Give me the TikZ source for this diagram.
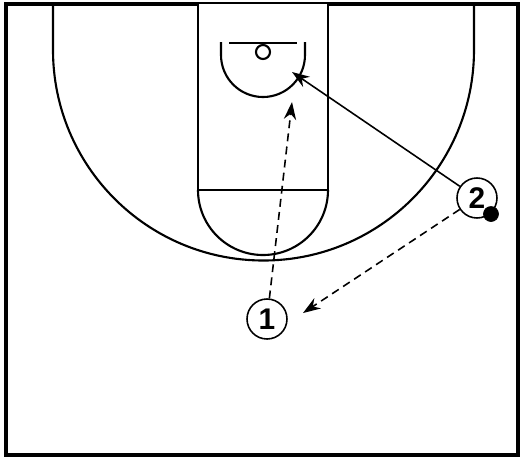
\documentclass[tikz,border=0pt]{standalone}
\usepackage{fontspec}
\setmainfont{Liberation Sans}
\usetikzlibrary{arrows.meta,positioning}
\tikzset{player/.style={draw,circle,line width=0.9pt,inner sep=0pt,minimum size=0.8cm,font=\bfseries\fontsize{17}{17}\selectfont}}
\tikzset{courtline/.style={line width=1.2pt}}
\tikzset{pass/.style={line width=0.9pt,-{Stealth[length=10pt,width=7pt]}}}
\tikzset{cut/.style={pass,dash pattern=on 4.5pt off 3pt}}

\begin{document}
\begin{tikzpicture}[x=0.02cm,y=-0.02cm]
\useasboundingbox (0,0) rectangle (525,458);

% Court
\draw[line width=1.8pt] (6,4) rectangle (518,455);
\draw[courtline] (53,4) -- (53,50) arc[start angle=180,end angle=0,radius=210.5] -- (474,4);
\draw[courtline,fill=white] (198,4) -- (198,190) -- (328,190) -- (328,4);
\draw[courtline] (198,190) arc[start angle=180,end angle=0,radius=65];
\draw[courtline] (221,42) -- (221,55) arc[start angle=180,end angle=0,radius=42] -- (305,42);
\draw[courtline] (229,43) -- (297,43);
\draw[courtline] (263,52) circle[radius=7];

% Players
\node[player] (p1) at (267,319) {1};
\node[player] (p2) at (477,198) {2};
\node[draw,fill=black,circle,inner sep=0pt,minimum size=0.3cm] (ball) at (491,214) {};

\coordinate (rim) at (292,72);
\coordinate (slot) at (292,102);
\coordinate (spot) at (303,313);

% Arrows
\draw[pass] (p2) -- (rim);
\draw[cut] (p1) -- (slot);
\draw[cut] (p2) -- (spot);
\end{tikzpicture}
\end{document}
